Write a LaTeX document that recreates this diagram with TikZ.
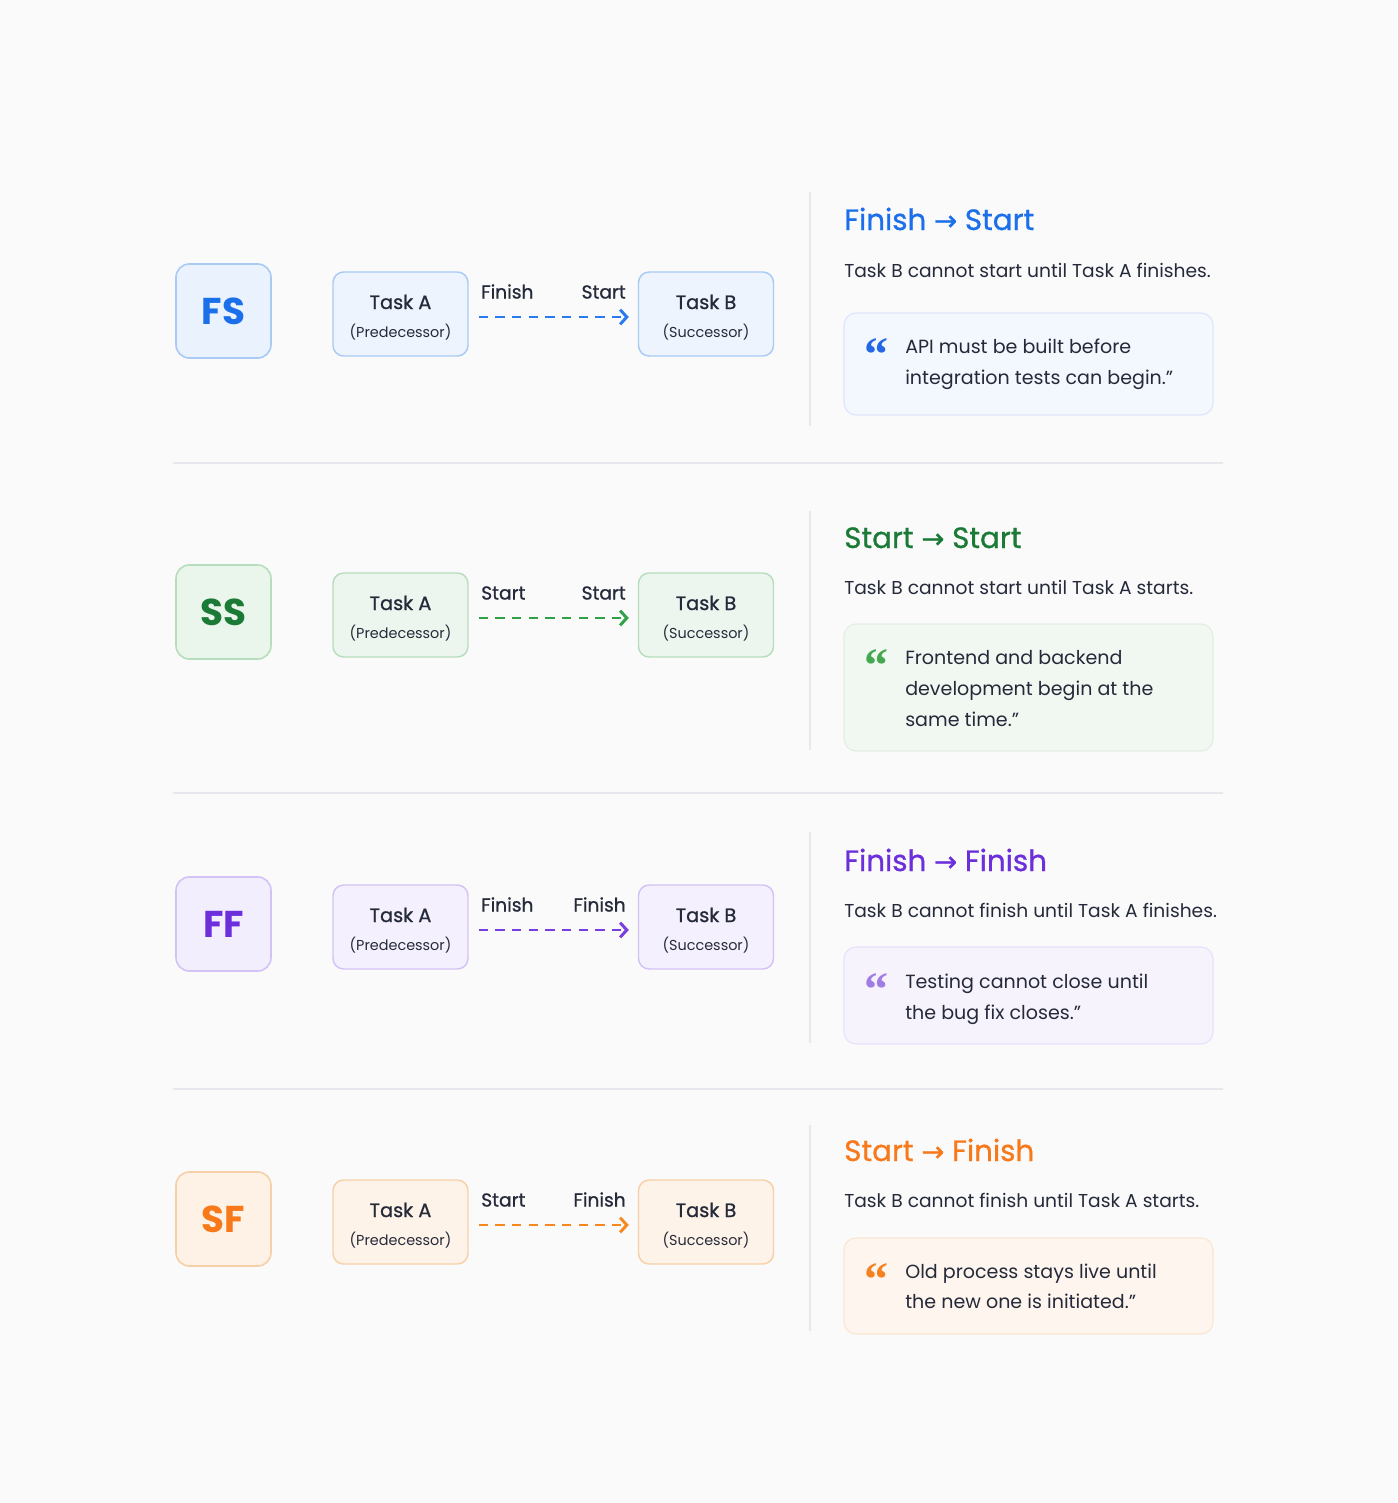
\documentclass[tikz,border=0pt]{standalone}
\usepackage{fontspec}
\setmainfont{Poppins}
\newfontfamily\medfont[FakeBold=0.9]{Poppins}
\newfontfamily\arrowfont[FakeBold=1.2]{DejaVu Sans}
\newfontfamily\quotefont{Liberation Serif Bold}
\usetikzlibrary{arrows.meta,calc}

\definecolor{bgcol}{HTML}{FAFAFB}
\definecolor{ink}{HTML}{252A3A}
\definecolor{rule}{HTML}{E6E8EE}
% blue
\definecolor{bluemain}{HTML}{1C6FEA}
\definecolor{bluearrow}{HTML}{2979F0}
\definecolor{blueline}{HTML}{A9CAF5}
\definecolor{bluefill}{HTML}{EAF2FE}
\definecolor{bluetask}{HTML}{EDF4FE}
\definecolor{blueqfill}{HTML}{F3F7FE}
\definecolor{blueqline}{HTML}{DCE7F9}
\definecolor{bluequote}{HTML}{2468E5}
% green
\definecolor{greenmain}{HTML}{1B7A35}
\definecolor{greenarrow}{HTML}{2FA147}
\definecolor{greenline}{HTML}{B7DEBC}
\definecolor{greenfill}{HTML}{EAF5EC}
\definecolor{greentask}{HTML}{EDF6EE}
\definecolor{greenqfill}{HTML}{F1F8F1}
\definecolor{greenqline}{HTML}{E2EFE3}
\definecolor{greenquote}{HTML}{43A84F}
% purple
\definecolor{purplemain}{HTML}{6C2FDB}
\definecolor{purplearrow}{HTML}{7A3DE0}
\definecolor{purpleline}{HTML}{D3C3F5}
\definecolor{purplefill}{HTML}{F3EEFE}
\definecolor{purpletask}{HTML}{F4F0FD}
\definecolor{purpleqfill}{HTML}{F6F3FD}
\definecolor{purpleqline}{HTML}{E9E1FA}
\definecolor{purplequote}{HTML}{A07CE6}
% orange
\definecolor{orangemain}{HTML}{F7791A}
\definecolor{orangearrow}{HTML}{F7871F}
\definecolor{orangeline}{HTML}{F7D0A8}
\definecolor{orangefill}{HTML}{FEF2E6}
\definecolor{orangetask}{HTML}{FEF3E8}
\definecolor{orangeqfill}{HTML}{FEF6EE}
\definecolor{orangeqline}{HTML}{FBE6D2}
\definecolor{orangequote}{HTML}{F58220}

\tikzset{
  badge/.style={draw=#1line, fill=#1fill, line width=1.2pt, rounded corners=10pt,
    minimum width=71.25pt, minimum height=70.5pt, inner sep=0pt, text=#1main,
    font=\bfseries\fontsize{28}{28}\selectfont},
  taskbox/.style={draw=#1line, fill=#1task, line width=1.1pt, rounded corners=8pt,
    minimum width=101.25pt, minimum height=63pt, inner sep=0pt},
  tasktitle/.style={font=\medfont\fontsize{14.5}{17}\selectfont, text=ink, inner sep=0pt, anchor=base},
  tasksub/.style={font=\fontsize{10.8}{13}\selectfont, text=ink, inner sep=0pt, anchor=base},
  endlbl/.style={font=\medfont\fontsize{14}{16}\selectfont, text=ink, inner sep=0pt},
  dep/.style={draw=#1arrow, line width=2.2pt, dash pattern=on 7pt off 5.5pt,
    -{Straight Barb[length=5pt,width=11pt,line width=2.2pt]}, shorten <=7.5pt, shorten >=6.75pt},
  reltitle/.style={font=\medfont\fontsize{22}{24}\selectfont, text=#1main, inner sep=0pt, anchor=base west},
  reldesc/.style={font=\fontsize{14}{17}\selectfont, text=ink, inner sep=0pt, anchor=base west},
  qbox/.style={draw=#1qline, fill=#1qfill, line width=0.9pt, rounded corners=9pt,
    minimum width=276.75pt, inner sep=0pt},
  qmark/.style={font=\quotefont\fontsize{36}{36}\selectfont, text=#1quote, inner sep=0pt, anchor=north west},
  qtext/.style={font=\fontsize{14.3}{17}\selectfont, text=ink, inner sep=0pt, anchor=base west},
  vrule/.style={draw=rule, line width=1.5pt},
  hrule/.style={draw=rule, line width=1.2pt},
}

\newcommand\relrow[6]{%
  \node[badge=#2] (bd#1) at (223.5,{#3-3}) {#4};
  \node[taskbox=#2] (ta#1) at (400.5,#3) {};
  \node[taskbox=#2] (tb#1) at (706,#3) {};
  \node[tasktitle] (taT#1) at ($(ta#1.center)+(0,-5)$) {Task A};
  \node[tasksub] (taS#1) at ($(ta#1.center)+(0,23)$) {(Predecessor)};
  \node[tasktitle] (tbT#1) at ($(tb#1.center)+(0,-5)$) {Task B};
  \node[tasksub] (tbS#1) at ($(tb#1.center)+(0,23)$) {(Successor)};
  \draw[dep=#2] ([yshift=-2.25pt]ta#1.east) -- ([yshift=-2.25pt]tb#1.west);
  \node[endlbl, anchor=base west] (ls#1) at (481,{#3-15.5}) {#5};
  \node[endlbl, anchor=base east] (le#1) at (626,{#3-15.5}) {#6};
}
\newcommand\arr{{\arrowfont\fontsize{20.5}{20}\selectfont →}}

\begin{document}
\begin{tikzpicture}[x=0.75pt,y=-0.75pt]
\fill[bgcol] (0,0) rectangle (1397,1503);
\useasboundingbox (0,0) rectangle (1397,1503);

% separators
\coordinate (s1l) at (173,463);  \coordinate (s1r) at (1223,463);
\coordinate (s2l) at (173,793);  \coordinate (s2r) at (1223,793);
\coordinate (s3l) at (173,1089); \coordinate (s3r) at (1223,1089);
\draw[hrule] (s1l) -- (s1r);
\draw[hrule] (s2l) -- (s2r);
\draw[hrule] (s3l) -- (s3r);

% vertical rules
\coordinate (v1t) at (810,192);  \coordinate (v1b) at (810,426);
\coordinate (v2t) at (810,511);  \coordinate (v2b) at (810,750);
\coordinate (v3t) at (810,832);  \coordinate (v3b) at (810,1043);
\coordinate (v4t) at (810,1125); \coordinate (v4b) at (810,1331);
\draw[vrule] (v1t) -- (v1b);
\draw[vrule] (v2t) -- (v2b);
\draw[vrule] (v3t) -- (v3b);
\draw[vrule] (v4t) -- (v4b);

% left rows
\relrow{a}{blue}{314}{FS}{Finish}{Start}
\relrow{b}{green}{615}{SS}{Start}{Start}
\relrow{c}{purple}{927}{FF}{Finish}{Finish}
\relrow{d}{orange}{1222}{SF}{Start}{Finish}

% ---- row 1 right
\node[reltitle=blue] (t1) at (844,230) {Finish \arr{} Start};
\node[reldesc] (d1) at (844,277) {Task B cannot start until Task A finishes.};
\node[qbox=blue, minimum height=76.5pt] (q1) at (1028.5,364) {};
\node[qmark=blue] (m1) at (864,338) {“};
\node[qtext] (q1a) at (905,353) {API must be built before};
\node[qtext] (q1b) at (905,384) {integration tests can begin.”};

% ---- row 2 right
\node[reltitle=green] (t2) at (844,548) {Start \arr{} Start};
\node[reldesc] (d2) at (844,594) {Task B cannot start until Task A starts.};
\node[qbox=green, minimum height=95.25pt] (q2) at (1028.5,687.5) {};
\node[qmark=green] (m2) at (864,649) {“};
\node[qtext] (q2a) at (905,664) {Frontend and backend};
\node[qtext] (q2b) at (905,695) {development begin at the};
\node[qtext] (q2c) at (905,726) {same time.”};

% ---- row 3 right
\node[reltitle=purple] (t3) at (844,871) {Finish \arr{} Finish};
\node[reldesc] (d3) at (844,917) {Task B cannot finish until Task A finishes.};
\node[qbox=purple, minimum height=72.75pt] (q3) at (1028.5,995.5) {};
\node[qmark=purple] (m3) at (864,973) {“};
\node[qtext] (q3a) at (905,988) {Testing cannot close until};
\node[qtext] (q3b) at (905,1019) {the bug fix closes.”};

% ---- row 4 right
\node[reltitle=orange] (t4) at (844,1161) {Start \arr{} Finish};
\node[reldesc] (d4) at (844,1207) {Task B cannot finish until Task A starts.};
\node[qbox=orange, minimum height=72pt] (q4) at (1028.5,1286) {};
\node[qmark=orange] (m4) at (864,1263) {“};
\node[qtext] (q4a) at (905,1278) {Old process stays live until};
\node[qtext] (q4b) at (905,1308) {the new one is initiated.”};
\end{tikzpicture}
\end{document}
